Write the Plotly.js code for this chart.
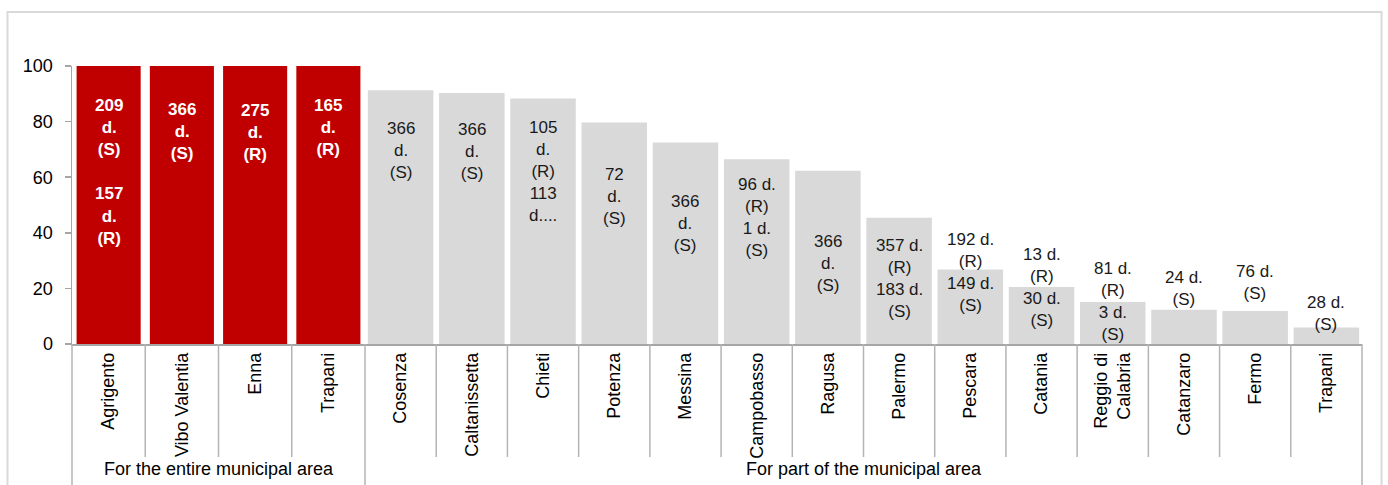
<!DOCTYPE html>
<html>
<head>
<meta charset="utf-8">
<script src="https://cdn.plot.ly/plotly-3.0.1.min.js"></script>
<style>
  html, body { margin: 0; padding: 0; background: #ffffff; }
  #chart { width: 1388px; height: 485px; }
</style>
</head>
<body>
<div id="chart"></div>
<script>
// Municipalities where the restriction covered the entire municipal area
const entireCats = ['Agrigento', 'Vibo Valentia', 'Enna', 'Trapani'];
const entireShare = [100, 100, 100, 100];
const entireLabels = [
  '209<br>d.<br>(S)<br><br>157<br>d.<br>(R)',
  '366<br>d.<br>(S)',
  '275<br>d.<br>(R)',
  '165<br>d.<br>(R)'
];

// Municipalities where it covered only part of the municipal area
const partCats = ['Cosenza', 'Caltanissetta', 'Chieti', 'Potenza', 'Messina', 'Campobasso',
  'Ragusa', 'Palermo', 'Pescara', 'Catania', 'Reggio di<br>Calabria', 'Catanzaro', 'Fermo', 'Trapani'];
const partShare = [91.3, 90.3, 88.3, 79.7, 72.5, 66.5, 62.3, 45.4, 26.8, 20.5, 15.1, 12.3, 11.9, 5.9];
const partLabels = [
  '366<br>d.<br>(S)',
  '366<br>d.<br>(S)',
  '105<br>d.<br>(R)<br>113<br>d....',
  '72<br>d.<br>(S)',
  '366<br>d.<br>(S)',
  '96 d.<br>(R)<br>1 d.<br>(S)',
  '366<br>d.<br>(S)',
  '357 d.<br>(R)<br>183 d.<br>(S)',
  '192 d.<br>(R)<br>149 d.<br>(S)',
  '13 d.<br>(R)<br>30 d.<br>(S)',
  '81 d.<br>(R)<br>3 d.<br>(S)',
  '24 d.<br>(S)',
  '76 d.<br>(S)',
  '28 d.<br>(S)'
];

const groupTitles = ['For the entire municipal area', 'For part of the municipal area'];

// Vertical centre of each label block, in axis units
const entireLabelPos = [61.9, 76.6, 76.2, 77.7];
const partLabelPos = [69.7, 69.2, 62.0, 53.0, 43.5, 45.6, 28.8, 23.4, 25.7, 20.3, 15.4, 19.9, 22.3, 10.8];

const RED = '#C00000';
const GREY = '#D9D9D9';
const AXIS = '#a6a6a6';
const SEP = '#b4b4b4';
const BASE_FONT = 'Liberation Sans, Arial, sans-serif';
const NARROW_FONT = 'Liberation Sans Narrow, Arial Narrow, Liberation Sans, Arial, sans-serif';

const W = 1388, H = 485;
const margin = { l: 72, r: 26, t: 66, b: 141 };
const plotW = W - margin.l - margin.r;
const plotH = H - margin.t - margin.b;
const split = 293 / plotW;   // share of the width given to the first group

const traces = [
  {
    type: 'bar', x: entireCats, y: entireShare, xaxis: 'x', yaxis: 'y',
    width: 0.875, marker: { color: RED }, hoverinfo: 'x+y'
  },
  {
    type: 'bar', x: partCats, y: partShare, xaxis: 'x2', yaxis: 'y',
    width: 0.92, marker: { color: GREY }, hoverinfo: 'x+y'
  }
];

const annotations = [];
entireCats.forEach((c, i) => annotations.push({
  xref: 'x', yref: 'y', x: c, y: entireLabelPos[i], text: entireLabels[i],
  showarrow: false, xanchor: 'center', yanchor: 'middle', align: 'center',
  font: { family: NARROW_FONT, size: 17, color: '#ffffff', weight: 'bold' }
}));
partCats.forEach((c, i) => annotations.push({
  xref: 'x2', yref: 'y', x: c, y: partLabelPos[i], text: partLabels[i],
  showarrow: false, xanchor: 'center', yanchor: 'middle', align: 'center',
  font: { family: NARROW_FONT, size: 17, color: '#1a1a1a' }
}));
// group captions under the category labels
['x domain', 'x2 domain'].forEach((ref, i) => annotations.push({
  xref: ref, yref: 'paper', x: 0.5, y: -125 / plotH, text: groupTitles[i],
  showarrow: false, xanchor: 'center', yanchor: 'middle',
  font: { family: BASE_FONT, size: 18, color: '#000000' }
}));

// category separators below the axis; group edges run to the bottom
const shortY = -113 / plotH;
const longY = -(margin.b + 5) / plotH;
const shapes = [];
function addSeparators(ref, n, skipFirst) {
  for (let i = 0; i <= n; i++) {
    if (i === 0 && skipFirst) continue;
    const edge = (i === 0 || i === n);
    shapes.push({
      type: 'line', xref: ref, yref: 'paper', x0: i / n, x1: i / n, y0: 0, y1: edge ? longY : shortY,
      line: { color: SEP, width: 1.5 }
    });
  }
}
addSeparators('x domain', entireCats.length, false);
addSeparators('x2 domain', partCats.length, true);

// light frame around the chart
shapes.push({
  type: 'rect', xref: 'paper', yref: 'paper',
  x0: (7.5 - margin.l) / plotW, x1: (1381.5 - margin.l) / plotW,
  y0: -(margin.b + 20) / plotH, y1: (margin.t - 12) / plotH + 1,
  line: { color: '#d9d9d9', width: 2 }, fillcolor: 'rgba(0,0,0,0)', layer: 'below'
});

const catAxis = {
  type: 'category', anchor: 'y', showline: true, linecolor: AXIS, linewidth: 1.5,
  ticks: '', tickangle: -90, showgrid: false, zeroline: false, fixedrange: true,
  tickfont: { family: BASE_FONT, size: 18, color: '#000000' }
};

const layout = {
  width: W, height: H, margin: margin,
  paper_bgcolor: '#ffffff', plot_bgcolor: '#ffffff',
  showlegend: false,
  xaxis: Object.assign({}, catAxis, { domain: [0, split] }),
  xaxis2: Object.assign({}, catAxis, { domain: [split, 1] }),
  yaxis: {
    range: [0, 100], tickvals: [0, 20, 40, 60, 80, 100],
    ticks: 'outside', ticklen: 6, tickwidth: 1.5, tickcolor: AXIS,
    showline: true, linecolor: AXIS, linewidth: 1.5,
    showgrid: false, zeroline: false, fixedrange: true, ticklabelstandoff: 8,
    tickfont: { family: BASE_FONT, size: 18, color: '#000000' }
  },
  annotations: annotations,
  shapes: shapes,
  font: { family: BASE_FONT }
};

Plotly.newPlot('chart', traces, layout, { displayModeBar: false, staticPlot: true });
</script>
</body>
</html>
